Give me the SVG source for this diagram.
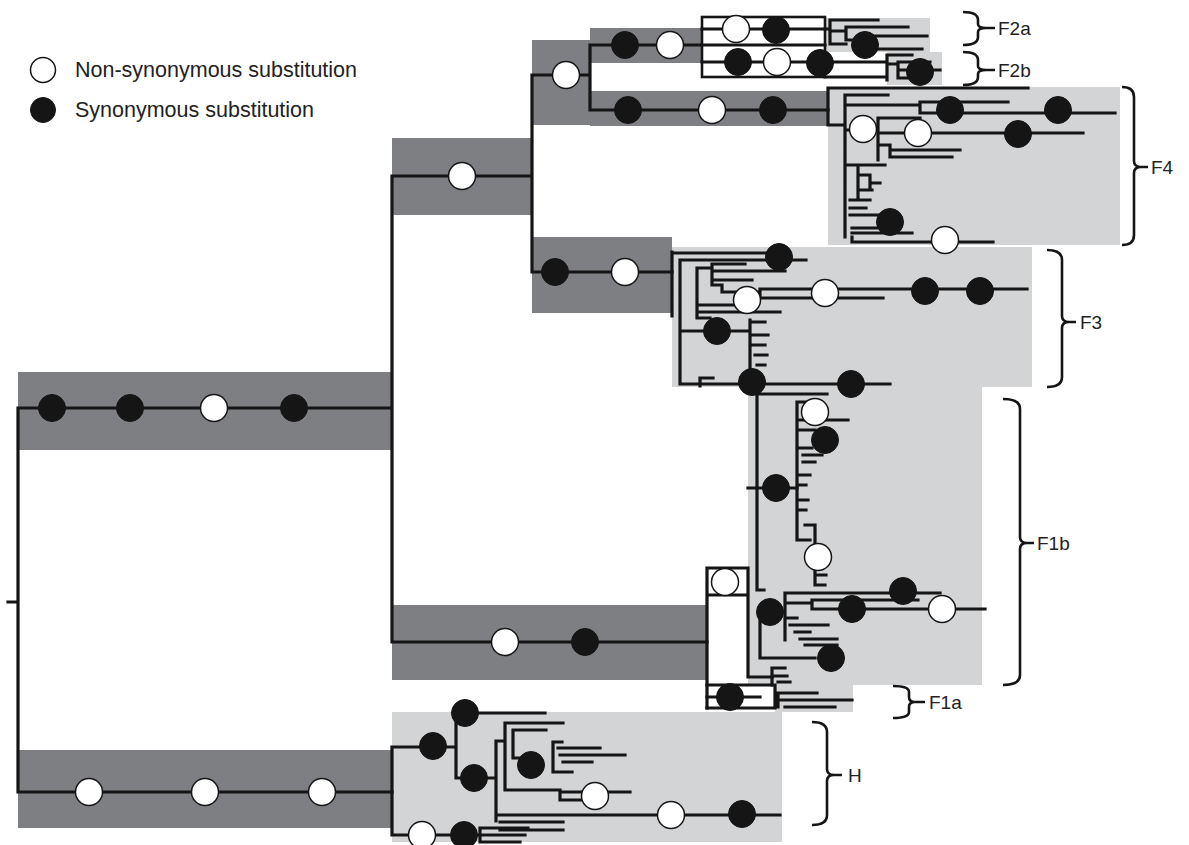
<svg xmlns="http://www.w3.org/2000/svg" width="1189" height="845" viewBox="0 0 1189 845">
<style>
.band{fill:#7e7f83}
.lg{fill:#d3d4d6}
.t{fill:none;stroke:#151515;stroke-width:3.2;stroke-linecap:square;stroke-linejoin:miter}
.bx{fill:#fff;stroke:#151515;stroke-width:2.6}
.br{fill:none;stroke:#151515;stroke-width:2.6}
.w{fill:#fff;stroke:#151515;stroke-width:1.5}
.b{fill:#151515;stroke:#151515;stroke-width:1}
.lbl{font-family:"Liberation Sans",Arial,Helvetica,sans-serif;font-size:19px;fill:#222}
.leg{font-family:"Liberation Sans",Arial,Helvetica,sans-serif;font-size:21.5px;fill:#222}
</style>
<defs>
<circle id="wc" r="13.5" class="w"/>
<circle id="bc" r="13.5" class="b"/>
</defs>
<rect width="1189" height="845" fill="#fff"/>

<g id="legend">
<circle cx="43" cy="70" r="12.5" class="w"/>
<text x="75" y="77" class="leg">Non-synonymous substitution</text>
<circle cx="43" cy="110" r="12.5" class="b"/>
<text x="75" y="117" class="leg">Synonymous substitution</text>
</g>

<g id="bands">
<rect class="band" x="18" y="372" width="374" height="78"/>
<rect class="band" x="18" y="750" width="374" height="78"/>
<rect class="band" x="392" y="138" width="140" height="77"/>
<rect class="band" x="532" y="40" width="58" height="85"/>
<rect class="band" x="590" y="28" width="112" height="35"/>
<rect class="band" x="590" y="91" width="238" height="35"/>
<rect class="band" x="532" y="237" width="140" height="76"/>
<rect class="band" x="392" y="605" width="315" height="75"/>
</g>

<g id="clade-regions">
<rect class="lg" x="825" y="18" width="105" height="34"/>
<rect class="lg" x="887" y="52" width="55" height="33"/>
<rect class="lg" x="828" y="87" width="292" height="158"/>
<rect class="lg" x="672" y="247" width="360" height="140"/>
<rect class="lg" x="748" y="387" width="234" height="298"/>
<rect class="lg" x="775" y="685" width="78" height="27"/>
<rect class="lg" x="392" y="712" width="390" height="130"/>
</g>

<g id="connectors">
<path class="t" d="M8 602H18M18 408V792M18 408H392M18 792H392M392 176V642M392 176H532M392 642H707M532 75V272M532 75H590M532 272H672M590 45V110M590 45H702M590 110H828"/>
<rect class="bx" x="702" y="17" width="123" height="60"/>
<path class="t" d="M702 29H825M702 45H825M702 62H825"/>
<path class="t" d="M825 29H830M830 20V44M830 20H878M830 31H846M846 27V40M846 27H908M846 40H862M862 36V49M862 36H927M862 49H922M830 44H846"/>
<path class="t" d="M825 62H887M887 55V80M887 55H912M887 64H898M898 62V78M898 62H930M898 70H940M898 78H925M825 77H887"/>
<path class="t" d="M828 88V125M828 88H1028M828 125H845M845 95V237M845 95H888M845 105H920M920 102V113M920 102H1008M920 113H1115M845 130H878M878 118V160M878 118H920M878 133H1083M878 145H890M890 145V157M890 150H960M890 157H952M845 165H885M858 165V200M858 175H870M870 175V190M870 183H880M858 190H872M850 200H870M850 208H866M850 215H880M852 228H900M852 233H912M852 237V242M852 242H993"/>
<path class="t" d="M672 252V316M672 253H780M680 260V384M680 260H806M697 268V318M697 268H712M712 264V285M712 264H745M712 271H785M712 280H752M712 285H722M722 285V292M722 292H760M760 289V298M760 289H1027M760 298H883M697 305H745M700 312H780M697 318H710M680 331H750M750 320V372M750 322H765M753 335H768M753 345H765M755 355H767M757 365H765M680 384H700M700 378V386M700 378H713M700 384H890"/>
<path class="t" d="M707 568V708M707 568H748M707 595H748M748 568V677M748 677H772M748 488H797M757 394V590M757 394H827M757 590H764"/>
<path class="t" d="M797 402V540M797 540H810M797 402H812M800 420H848M800 430H815M800 448H812M803 455H822M803 462H815M800 475H810M800 485H806M800 500H808M800 510H806M805 525H815M815 525V545M815 565V585M815 585H825M818 575H826"/>
<path class="t" d="M760 612V658M760 658H815M760 612H785M785 593V640M785 593H940M785 603H812M812 600V609M812 600H918M812 609H985M785 618H797M790 625H828M795 632H810M800 639H837M805 645H837M772 668V685M772 668H785M775 676H787M778 682H790"/>
<path class="t" d="M707 685H775M707 708H775M775 685V708M707 697H760M775 693H817M778 700H852M778 693V707M785 707H835"/>
<path class="t" d="M392 747V835M392 747H456M456 713V778M456 713H545M456 778H496M496 741V821M496 741H505M505 723V790M505 723H563M513 730H546M513 730V758M513 758H535M553 742V772M553 742H562M558 748H600M560 755H625M563 762H592M553 772H572M505 790H560M560 790V800M560 792H630M560 800H585M496 815H780M500 822H563M500 830H563M392 835H480M480 828V842M480 828H528M480 835H525M480 842H520"/>
</g>

<g id="substitutions">
<use href="#bc" x="52" y="408"/><use href="#bc" x="130" y="408"/><use href="#wc" x="214" y="408"/><use href="#bc" x="294" y="408"/>
<use href="#wc" x="89" y="792"/><use href="#wc" x="205" y="792"/><use href="#wc" x="322" y="792"/>
<use href="#wc" x="462" y="176"/>
<use href="#wc" x="566" y="75"/>
<use href="#bc" x="625" y="45"/><use href="#wc" x="670" y="45"/>
<use href="#wc" x="736" y="29"/><use href="#bc" x="776" y="30"/>
<use href="#bc" x="738" y="62"/><use href="#wc" x="777" y="62"/><use href="#bc" x="820" y="63"/>
<use href="#bc" x="865" y="45"/>
<use href="#bc" x="920" y="72"/>
<use href="#bc" x="628" y="110"/><use href="#wc" x="712" y="110"/><use href="#bc" x="773" y="110"/>
<use href="#bc" x="950" y="110"/><use href="#bc" x="1058" y="110"/>
<use href="#wc" x="863" y="129"/><use href="#wc" x="918" y="133"/><use href="#bc" x="1018" y="134"/>
<use href="#bc" x="890" y="222"/><use href="#wc" x="945" y="240"/>
<use href="#bc" x="555" y="272"/><use href="#wc" x="625" y="272"/>
<use href="#bc" x="779" y="257"/>
<use href="#wc" x="747" y="300"/><use href="#wc" x="825" y="293"/><use href="#bc" x="925" y="291"/><use href="#bc" x="980" y="291"/>
<use href="#bc" x="717" y="331"/>
<use href="#bc" x="752" y="382"/><use href="#bc" x="851" y="384"/>
<use href="#wc" x="505" y="642"/><use href="#bc" x="585" y="642"/>
<use href="#wc" x="725" y="582"/>
<use href="#wc" x="815" y="412"/><use href="#bc" x="825" y="440"/><use href="#bc" x="776" y="488"/><use href="#wc" x="818" y="557"/>
<use href="#bc" x="903" y="591"/><use href="#bc" x="770" y="612"/><use href="#bc" x="852" y="609"/><use href="#wc" x="942" y="609"/>
<use href="#bc" x="831" y="658"/>
<use href="#bc" x="730" y="697"/>
<use href="#bc" x="433" y="746"/><use href="#bc" x="465" y="713"/><use href="#bc" x="474" y="778"/>
<use href="#bc" x="531" y="765"/><use href="#wc" x="595" y="796"/>
<use href="#wc" x="671" y="815"/><use href="#bc" x="742" y="814"/>
<use href="#wc" x="422" y="835"/><use href="#bc" x="464" y="835"/>
</g>

<g id="clade-labels">
<path class="br" d="M963 12Q978 12 978 20V24Q978 28 986 28H995M986 28Q978 28 978 32V37Q978 45 963 45"/>
<text x="998" y="35" class="lbl">F2a</text>
<path class="br" d="M963 52Q978 52 978 60V66Q978 70 986 70H995M986 70Q978 70 978 74V77Q978 85 963 85"/>
<text x="998" y="77" class="lbl">F2b</text>
<path class="br" d="M1122 87Q1134 87 1134 97V161Q1134 167 1141 167H1148M1141 167Q1134 167 1134 173V235Q1134 245 1122 245"/>
<text x="1151" y="174" class="lbl">F4</text>
<path class="br" d="M1047 250Q1062 250 1062 260V316Q1062 322 1069 322H1076M1069 322Q1062 322 1062 328V377Q1062 387 1047 387"/>
<text x="1080" y="329" class="lbl">F3</text>
<path class="br" d="M1003 399Q1020 399 1020 409V537Q1020 543 1027 543H1034M1027 543Q1020 543 1020 549V675Q1020 685 1003 685"/>
<text x="1037" y="550" class="lbl">F1b</text>
<path class="br" d="M893 686Q909 686 909 692V697Q909 702 915 702H925M915 702Q909 702 909 707V712Q909 718 893 718"/>
<text x="929" y="709" class="lbl">F1a</text>
<path class="br" d="M812 722Q827 722 827 732V769Q827 775 834 775H842M834 775Q827 775 827 781V815Q827 825 812 825"/>
<text x="848" y="782" class="lbl">H</text>
</g>
</svg>
